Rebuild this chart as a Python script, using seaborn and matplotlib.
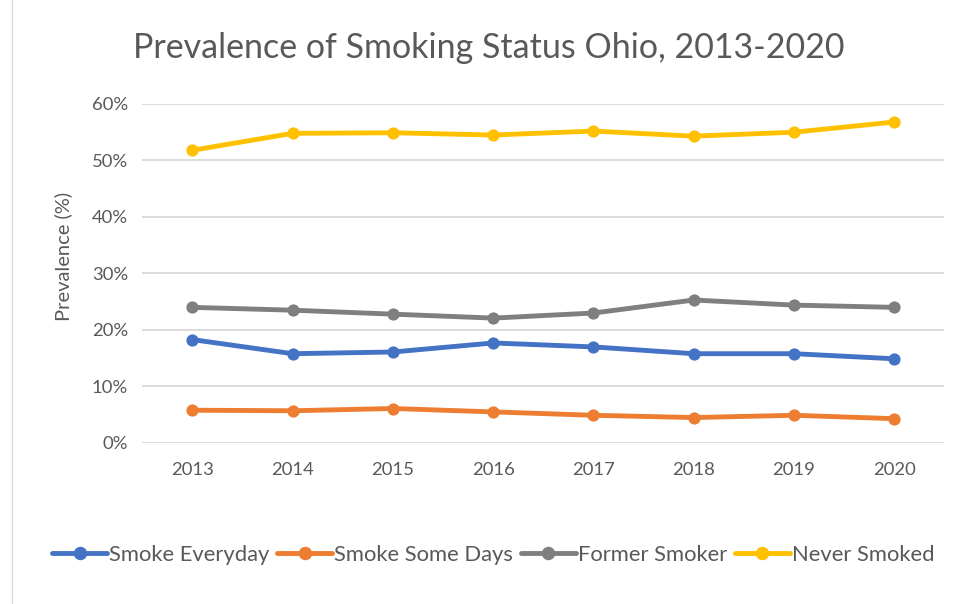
import numpy as np
import matplotlib.pyplot as plt
import matplotlib.ticker as mticker
import pandas as pd
import seaborn as sns

years = ["2013", "2014", "2015", "2016", "2017", "2018", "2019", "2020"]
smoke_everyday = [18.3, 15.8, 16.1, 17.7, 17.0, 15.8, 15.8, 14.9]
smoke_some_days = [5.8, 5.7, 6.1, 5.5, 4.9, 4.5, 4.9, 4.3]
former_smoker = [24.0, 23.5, 22.8, 22.1, 23.0, 25.3, 24.4, 24.0]
never_smoked = [51.8, 54.8, 54.9, 54.5, 55.2, 54.3, 55.0, 56.8]

series = {
    "Smoke Everyday": smoke_everyday,
    "Smoke Some Days": smoke_some_days,
    "Former Smoker": former_smoker,
    "Never Smoked": never_smoked,
}
colors = ["#4472C4", "#ED7D31", "#7F7F7F", "#FFC000"]

rows = []
for name, vals in series.items():
    for yr, v in zip(years, vals):
        rows.append({"Year": yr, "Status": name, "Prevalence": v / 100})
df = pd.DataFrame(rows)

sns.set_style("white")
plt.rcParams["font.family"] = ["Lato", "DejaVu Sans"]
txt = "#595959"

fig = plt.figure(figsize=(9.54, 6.04), dpi=100)
ax = fig.add_axes([0.149, 0.2666, 0.841, 0.5613])

sns.lineplot(data=df, x="Year", y="Prevalence", hue="Status", palette=colors,
             marker="o", markersize=8.8, markeredgewidth=0, linewidth=3.5,
             sort=False, ax=ax)

ax.set_xlim(-0.5, 7.5)
ax.set_ylim(0, 0.6)
ax.set_yticks(np.arange(0, 0.61, 0.1))
ax.yaxis.set_major_formatter(mticker.PercentFormatter(1.0, decimals=0))
ax.grid(axis="y", color="#D9D9D9", linewidth=1.3)
ax.set_axisbelow(True)
for s in ax.spines.values():
    s.set_visible(False)
ax.tick_params(axis="both", length=0, labelsize=13.3, colors=txt, pad=10)
ax.tick_params(axis="x", pad=14)
ax.set_xlabel("")
ax.set_ylabel("Prevalence (%)", fontsize=14.5, color=txt)
ax.yaxis.set_label_coords(-0.087, 0.55)

fig.suptitle("Prevalence of Smoking Status Ohio, 2013-2020", fontsize=24.5,
             color=txt, y=0.947, x=0.512)

handles, labels = ax.get_legend_handles_labels()
ax.get_legend().remove()
fig.legend(handles, labels, loc="center", bbox_to_anchor=(0.517, 0.081),
           ncol=4, frameon=False, fontsize=15.8, labelcolor=txt,
           handlelength=2.5, handletextpad=0.1, columnspacing=0.35,
           markerscale=1.1)

fig.add_artist(plt.Line2D([0.0125, 0.0125], [0, 1], color="#D9D9D9",
                          linewidth=1, transform=fig.transFigure))

fig.savefig("out.png", dpi=100)
